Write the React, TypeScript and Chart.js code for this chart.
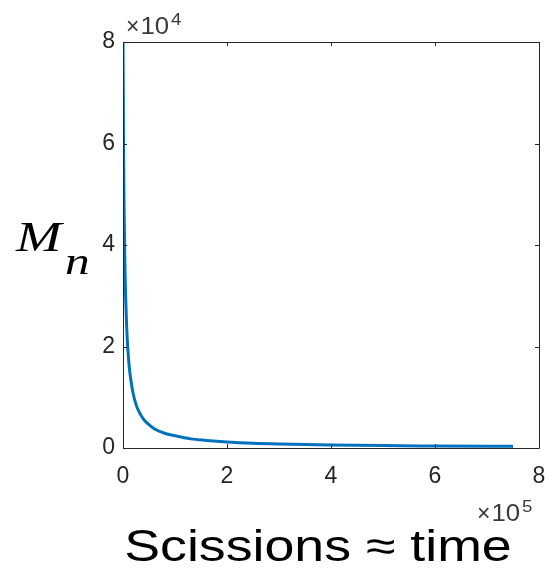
import React, { useEffect, useRef } from "react";
import { Chart, registerables } from "chart.js";

Chart.register(...registerables);

// Scissions (×10^5)
const scissions = [0, 0.005, 0.01, 0.02, 0.03, 0.04, 0.05, 0.07, 0.09, 0.12, 0.15, 0.19, 0.25, 0.3, 0.4, 0.5, 0.6, 0.8, 1.0, 1.3, 1.6, 2.0, 2.5, 3.0, 4.0, 5.0, 6.0, 7.0, 7.5];
// Mn (×10^4)
const mn = [8.0, 7.0, 6.0, 4.8, 4.0, 3.4, 3.0, 2.4, 2.0, 1.6, 1.35, 1.1, 0.86, 0.73, 0.56, 0.46, 0.38, 0.29, 0.24, 0.18, 0.15, 0.12, 0.095, 0.08, 0.06, 0.047, 0.04, 0.034, 0.032];
const xTicks = [0, 2, 4, 6, 8];
const yTicks = [0, 2, 4, 6, 8];
const xLabel = "Scissions ≈ time";
const yLabelMain = "M";
const yLabelSub = "n";
const xExp = "5";
const yExp = "4";

const AX = "#262626";
const SANS = "'Liberation Sans', Arial, Helvetica, sans-serif";
const SERIF = "'Liberation Serif', 'Times New Roman', serif";

function stretchedText(ctx: any, text: string, x: number, y: number, sx: number, align: string) {
  ctx.save();
  ctx.translate(x, y);
  ctx.scale(sx, 1);
  ctx.textAlign = align;
  ctx.fillText(text, 0, 0);
  ctx.restore();
  return ctx.measureText(text).width * sx;
}

const decorPlugin = {
  id: "decor",
  afterDraw(chart: any) {
    const ctx = chart.ctx;
    const { left, right, top, bottom } = chart.chartArea;
    const xs = chart.scales.x;
    const ys = chart.scales.y;
    ctx.save();
    ctx.strokeStyle = AX;
    ctx.lineWidth = 1;
    ctx.beginPath();
    ctx.rect(Math.round(left) + 0.5, Math.round(top) + 0.5, Math.round(right - left), Math.round(bottom - top));
    ctx.stroke();
    const tl = 4;
    ctx.beginPath();
    xTicks.forEach((v) => {
      const px = Math.round(xs.getPixelForValue(v)) + 0.5;
      ctx.moveTo(px, bottom);
      ctx.lineTo(px, bottom - tl);
      ctx.moveTo(px, top);
      ctx.lineTo(px, top + tl);
    });
    yTicks.forEach((v) => {
      const py = Math.round(ys.getPixelForValue(v)) + 0.5;
      ctx.moveTo(left, py);
      ctx.lineTo(left + tl, py);
      ctx.moveTo(right, py);
      ctx.lineTo(right - tl, py);
    });
    ctx.stroke();

    // exponent labels
    ctx.fillStyle = "#3a3a3a";
    ctx.textBaseline = "alphabetic";
    const drawExp = (x: number, y: number, exp: string) => {
      ctx.font = "23px " + SANS;
      let w = stretchedText(ctx, "×", x, y, 1.0, "left");
      w += stretchedText(ctx, "10", x + w + 1, y, 1.12, "left");
      ctx.font = "17px " + SANS;
      stretchedText(ctx, exp, x + w + 3, y - 9, 1.1, "left");
    };
    drawExp(left + 3, top - 8, yExp);
    drawExp(477, 521, xExp);

    // x title
    ctx.fillStyle = "#000";
    ctx.font = "44px " + SANS;
    stretchedText(ctx, xLabel, 318, 561, 1.22, "center");

    // y title
    ctx.font = "italic 42px " + SERIF;
    stretchedText(ctx, yLabelMain, 16, 251, 1.3, "left");
    ctx.font = "italic 38px " + SERIF;
    stretchedText(ctx, yLabelSub, 65, 274, 1.3, "left");
    ctx.restore();
  },
};

export default function App() {
  const ref = useRef<HTMLCanvasElement | null>(null);
  useEffect(() => {
    if (!ref.current) return;
    const chart = new Chart(ref.current, {
      type: "scatter",
      data: {
        datasets: [
          {
            data: scissions.map((x, i) => ({ x, y: mn[i] })),
            showLine: true,
            borderColor: "#0072BD",
            borderWidth: 3,
            pointRadius: 0,
            cubicInterpolationMode: "monotone",
            fill: false,
          },
        ],
      },
      options: {
        animation: false,
        responsive: false,
        events: [],
        plugins: { legend: { display: false }, tooltip: { enabled: false }, title: { display: false } },
        layout: { padding: { left: 0, right: 10, top: 42, bottom: 0 } },
        scales: {
          x: {
            type: "linear",
            min: 0,
            max: 8,
            afterFit: (s: any) => { s.height = 123; s.paddingLeft = 0; s.paddingRight = 0; },
            afterBuildTicks: (s: any) => { s.ticks = xTicks.map((v) => ({ value: v })); },
            grid: { display: false, drawTicks: false },
            border: { display: false },
            ticks: {
              color: AX,
              padding: 15,
              maxRotation: 0,
              autoSkip: false,
              font: { family: SANS, size: 23 },
              callback: (v: any) => String(v),
            },
          },
          y: {
            type: "linear",
            min: 0,
            max: 8,
            afterFit: (s: any) => { s.width = 123; s.paddingTop = 0; s.paddingBottom = 0; },
            afterBuildTicks: (s: any) => { s.ticks = yTicks.map((v) => ({ value: v })); },
            grid: { display: false, drawTicks: false },
            border: { display: false },
            ticks: {
              color: AX,
              padding: 8,
              autoSkip: false,
              font: { family: SANS, size: 23 },
              callback: (v: any) => String(v),
            },
          },
        },
      },
      plugins: [decorPlugin],
    } as any);
    return () => chart.destroy();
  }, []);
  return (
    <div style={{ position: "fixed", left: 0, top: 0, width: 549, height: 571, background: "#fff" }}>
      <canvas ref={ref} width={549} height={571} style={{ display: "block" }} />
    </div>
  );
}
